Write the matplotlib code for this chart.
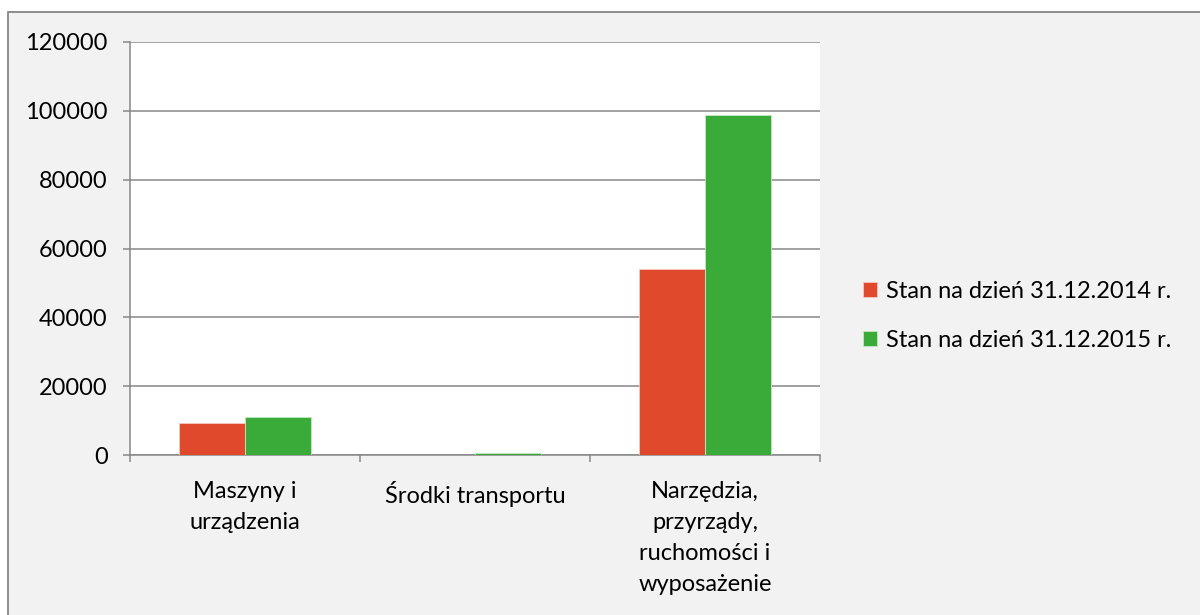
import matplotlib
matplotlib.use("Agg")
import matplotlib.pyplot as plt
from matplotlib.patches import Rectangle
import numpy as np

categories = ["Maszyny i\nurządzenia", "Środki transportu",
              "Narzędzia,\nprzyrządy,\nruchomości i\nwyposażenie"]
series_names = ["Stan na dzień 31.12.2014 r.", "Stan na dzień 31.12.2015 r."]
values_2014 = [9200, 0, 53900]
values_2015 = [11100, 650, 98700]
yticks = [0, 20000, 40000, 60000, 80000, 100000, 120000]

colors = ["#E0492C", "#3AAA38"]
FONT = "Lato"
FS = 17

W, H = 1200, 615
fig = plt.figure(figsize=(W / 100, H / 100), dpi=100)
fig.patch.set_facecolor("white")

# outer chart area
bg = Rectangle((8 / W, -0.1), 1.2, 1.1 - 12 / H, transform=fig.transFigure,
               facecolor="#F2F2F2", edgecolor="#868686", linewidth=1.3, zorder=-5)
fig.patches.append(bg)

ax = fig.add_axes([130 / W, (H - 455) / H, 690 / W, 413 / H])
ax.set_zorder(2)
ax.set_facecolor("white")

x = np.arange(len(categories))
bw = 1 / 3.5
ax.bar(x - bw / 2, values_2014, bw, color=colors[0], edgecolor="#F6C9C0",
       linewidth=0.6, label=series_names[0], zorder=3)
ax.bar(x + bw / 2, values_2015, bw, color=colors[1], edgecolor="#C5E8C4",
       linewidth=0.6, label=series_names[1], zorder=3)

ax.set_xlim(-0.5, len(categories) - 0.5)
ax.set_ylim(0, 120000)
ax.set_yticks(yticks)
ax.set_yticklabels([str(v) for v in yticks], fontfamily=FONT, fontsize=FS)
ax.yaxis.grid(True, color="#878787", linewidth=1.1, zorder=0)
ax.set_axisbelow(True)

ax.set_xticks([-0.5, 0.5, 1.5, 2.5])
ax.set_xticklabels([])
ax.set_xticks(x, minor=True)
ax.set_xticklabels(categories, minor=True, fontfamily=FONT, fontsize=FS,
                   linespacing=1.58, va="top")
ax.tick_params(axis="x", which="minor", length=0, pad=19)
ax.tick_params(axis="x", which="major", length=5, width=1.1, color="#878787")
ax.tick_params(axis="y", length=5, width=1.1, color="#878787", pad=11)

for s in ["top", "right"]:
    ax.spines[s].set_visible(False)
for s in ["left", "bottom"]:
    ax.spines[s].set_color("#878787")
    ax.spines[s].set_linewidth(1.1)

leg = fig.legend(loc="center left", bbox_to_anchor=(842 / W, (H - 316) / H),
                 frameon=False, prop={"family": FONT, "size": FS},
                 handlelength=0.6, handleheight=0.6, handletextpad=0.35,
                 labelspacing=1.2)

fig.savefig("out.png", dpi=100, facecolor=fig.get_facecolor())
